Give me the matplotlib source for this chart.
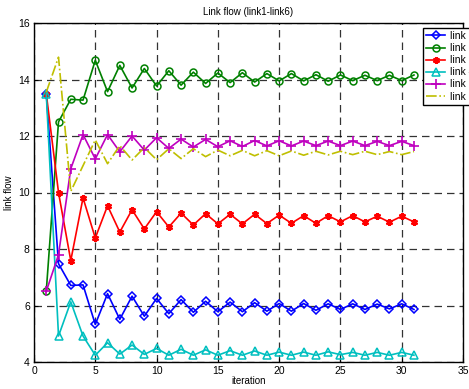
import matplotlib
matplotlib.use("Agg")
import matplotlib.pyplot as plt

iterations = list(range(1, 32))

link1 = [13.5, 7.48, 6.71, 6.73, 5.33, 6.42, 5.51, 6.33, 5.62, 6.25, 5.71, 6.21, 5.76, 6.15, 5.78, 6.12,
         5.78, 6.10, 5.80, 6.07, 5.80, 6.07, 5.83, 6.06, 5.86, 6.06, 5.86, 6.05, 5.88, 6.06, 5.86]
link2 = [6.5, 12.5, 13.3, 13.27, 14.68, 13.57, 14.5, 13.7, 14.39, 13.77, 14.31, 13.8, 14.26, 13.86, 14.23, 13.89,
         14.24, 13.91, 14.21, 13.95, 14.21, 13.95, 14.17, 13.94, 14.16, 13.96, 14.15, 13.96, 14.15, 13.96, 14.16]
link3 = [13.5, 10.0, 7.59, 9.81, 8.39, 9.53, 8.6, 9.39, 8.71, 9.32, 8.78, 9.27, 8.85, 9.25, 8.89, 9.23,
         8.89, 9.23, 8.90, 9.20, 8.91, 9.18, 8.91, 9.18, 8.96, 9.18, 8.96, 9.16, 8.95, 9.16, 8.96]
link4 = [13.5, 4.92, 6.13, 4.92, 4.24, 4.68, 4.28, 4.60, 4.27, 4.48, 4.24, 4.45, 4.24, 4.43, 4.24, 4.40,
         4.24, 4.39, 4.24, 4.35, 4.24, 4.35, 4.24, 4.36, 4.26, 4.34, 4.24, 4.34, 4.24, 4.34, 4.24]
link5 = [6.5, 7.8, 10.84, 12.05, 11.19, 12.05, 11.44, 12.0, 11.5, 11.94, 11.56, 11.89, 11.61, 11.88, 11.62, 11.83,
         11.63, 11.84, 11.65, 11.83, 11.65, 11.82, 11.66, 11.82, 11.66, 11.82, 11.66, 11.81, 11.66, 11.81, 11.66]
link6 = [13.55, 14.79, 10.04, 10.95, 11.86, 11.02, 11.66, 11.15, 11.59, 11.16, 11.55, 11.2, 11.55, 11.27, 11.5, 11.3,
         11.49, 11.30, 11.48, 11.30, 11.47, 11.32, 11.46, 11.33, 11.46, 11.34, 11.46, 11.34, 11.45, 11.34, 11.45]

labels = ["link 1", "link 2", "link 3", "link 4", "link 5", "link 6"]
title = "Link flow (link1-link6)"
xlabel = "iteration"
ylabel = "link flow"
xticks = [0, 5, 10, 15, 20, 25, 30, 35]
yticks = [4, 6, 8, 10, 12, 14, 16]

plt.rcParams['font.family'] = ['Liberation Sans', 'DejaVu Sans']

fig = plt.figure(figsize=(4.69, 3.89), dpi=100)
ax = fig.add_axes([34/469, 1 - 362/389, (463-34)/469, (362-23)/389])

lw = 1.2
ax.plot(iterations, link1, color=(0, 0, 1), marker='D', markersize=4.2, mfc='none', mew=1.1, lw=lw, label=labels[0])
ax.plot(iterations, link2, color=(0, 0.5, 0), marker='o', markersize=5, mfc='none', mew=1.1, lw=lw, label=labels[1])
ax.plot(iterations, link3, color=(1, 0, 0), marker=(6, 2, 0), markersize=5, mew=1.6, lw=lw, label=labels[2])
ax.plot(iterations, link4, color=(0, 0.75, 0.75), marker='^', markersize=6, mfc='none', mew=1.1, lw=lw, label=labels[3])
ax.plot(iterations, link5, color=(0.75, 0, 0.75), marker='+', markersize=7, mew=1.2, lw=lw, label=labels[4])
ax.plot(iterations, link6, color=(0.75, 0.75, 0), linestyle='-.', lw=lw, label=labels[5])

ax.set_xlim(0, 35)
ax.set_ylim(4, 16)
ax.set_xticks(xticks)
ax.set_yticks(yticks)
ax.tick_params(direction='in', labelsize=7.5, length=3, pad=3)
ax.grid(True, color='black', linestyle=(0, (6, 4)), linewidth=0.9, alpha=0.8)
for s in ax.spines.values():
    s.set_linewidth(1.0)

ax.set_title(title, fontsize=7, pad=6)
ax.set_xlabel(xlabel, fontsize=7, labelpad=0)
ax.set_ylabel(ylabel, fontsize=7, labelpad=3)

leg = ax.legend(loc='upper left', bbox_to_anchor=(423/469, 1 - 28/389),
                bbox_transform=fig.transFigure, fontsize=7.5, frameon=True,
                fancybox=False, borderaxespad=0, borderpad=0.3, labelspacing=0.2,
                handlelength=1.8, handletextpad=0.5)
leg.get_frame().set_edgecolor('black')
leg.get_frame().set_linewidth(1.0)
leg.get_frame().set_alpha(1.0)
leg.set_zorder(10)

fig.savefig("out.png", dpi=100)
